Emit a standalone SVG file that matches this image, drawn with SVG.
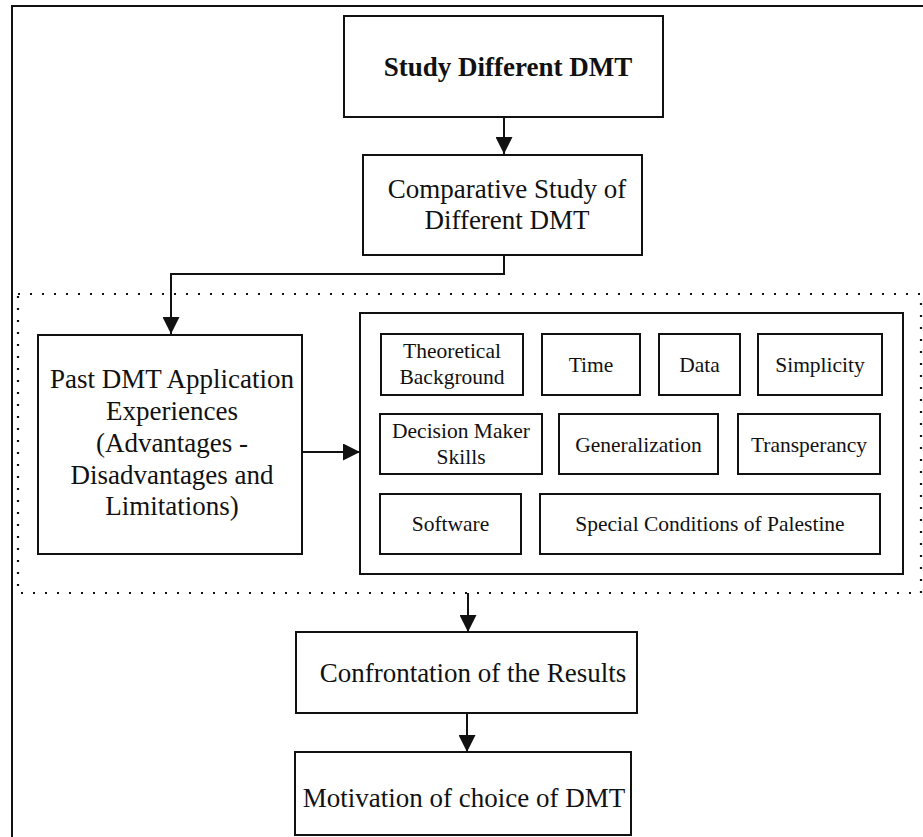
<svg xmlns="http://www.w3.org/2000/svg" width="923" height="837" viewBox="0 0 923 837">
<defs>
<style>
.box{fill:#fff;stroke:#111;stroke-width:2}
.t{font-family:"Liberation Serif","Times New Roman",serif;font-size:27px;fill:#111;text-anchor:middle}
.s{font-family:"Liberation Serif","Times New Roman",serif;font-size:21.5px;fill:#111;text-anchor:middle}
.b{font-weight:bold}
.ln{fill:none;stroke:#111;stroke-width:2}
.dot{fill:none;stroke:#111;stroke-width:2.2;stroke-dasharray:2 10}
</style>
<marker id="arr" markerUnits="userSpaceOnUse" markerWidth="17" markerHeight="17" refX="17" refY="8.5" orient="auto">
<path d="M0,0 L17,8.5 L0,17 z" fill="#111"/>
</marker>
</defs>
<rect width="923" height="837" fill="#fff"/>
<path class="ln" d="M12,837 V6 H923"/>
<rect id="group-frame" x="18" y="294" width="903" height="299" class="dot"/>

<g id="connectors">
<path class="ln" d="M504,117 V154" marker-end="url(#arr)"/>
<path class="ln" d="M504,255 V274 H171 V334" marker-end="url(#arr)"/>
<path class="ln" d="M302,452 H360" marker-end="url(#arr)"/>
<path class="ln" d="M468,593 V632" marker-end="url(#arr)"/>
<path class="ln" d="M467,713 V752" marker-end="url(#arr)"/>
</g>

<g id="study">
<rect class="box" x="344" y="16" width="319" height="101"/>
<text class="t b" x="508" y="76">Study Different DMT</text>
</g>
<g id="comparative">
<rect class="box" x="363" y="155" width="279" height="100"/>
<text class="t" x="507" y="198">Comparative Study of</text>
<text class="t" x="507" y="229">Different DMT</text>
</g>
<g id="past">
<rect class="box" x="38" y="335" width="264" height="219"/>
<text class="t" x="172" y="388">Past DMT Application</text>
<text class="t" x="172" y="420">Experiences</text>
<text class="t" x="172" y="452">(Advantages -</text>
<text class="t" x="172" y="484">Disadvantages and</text>
<text class="t" x="172" y="515">Limitations)</text>
</g>
<g id="criteria">
<rect class="box" x="360" y="313" width="543" height="261"/>
</g>
<g id="theoretical">
<rect class="box" x="381" y="334" width="142" height="61"/>
<text class="s" x="452" y="358">Theoretical</text>
<text class="s" x="452" y="384">Background</text>
</g>
<g id="time">
<rect class="box" x="542" y="334" width="98" height="61"/>
<text class="s" x="591" y="372">Time</text>
</g>
<g id="data">
<rect class="box" x="659" y="334" width="81" height="61"/>
<text class="s" x="699.5" y="372">Data</text>
</g>
<g id="simplicity">
<rect class="box" x="758" y="334" width="124" height="61"/>
<text class="s" x="820" y="372">Simplicity</text>
</g>
<g id="decision">
<rect class="box" x="380" y="414" width="162" height="60"/>
<text class="s" x="461" y="438">Decision Maker</text>
<text class="s" x="461" y="464">Skills</text>
</g>
<g id="generalization">
<rect class="box" x="559" y="414" width="159" height="60"/>
<text class="s" x="638.5" y="452">Generalization</text>
</g>
<g id="transperancy">
<rect class="box" x="738" y="414" width="142" height="60"/>
<text class="s" x="809" y="452">Transperancy</text>
</g>
<g id="software">
<rect class="box" x="380" y="494" width="141" height="60"/>
<text class="s" x="450.5" y="531">Software</text>
</g>
<g id="special">
<rect class="box" x="540" y="494" width="340" height="60"/>
<text class="s" x="710" y="531">Special Conditions of Palestine</text>
</g>
<g id="confrontation">
<rect class="box" x="296" y="632" width="341" height="81"/>
<text class="t" x="473" y="682">Confrontation of the Results</text>
</g>
<g id="motivation">
<rect class="box" x="295" y="752" width="336" height="83"/>
<text class="t" x="464" y="807">Motivation of choice of DMT</text>
</g>
</svg>
